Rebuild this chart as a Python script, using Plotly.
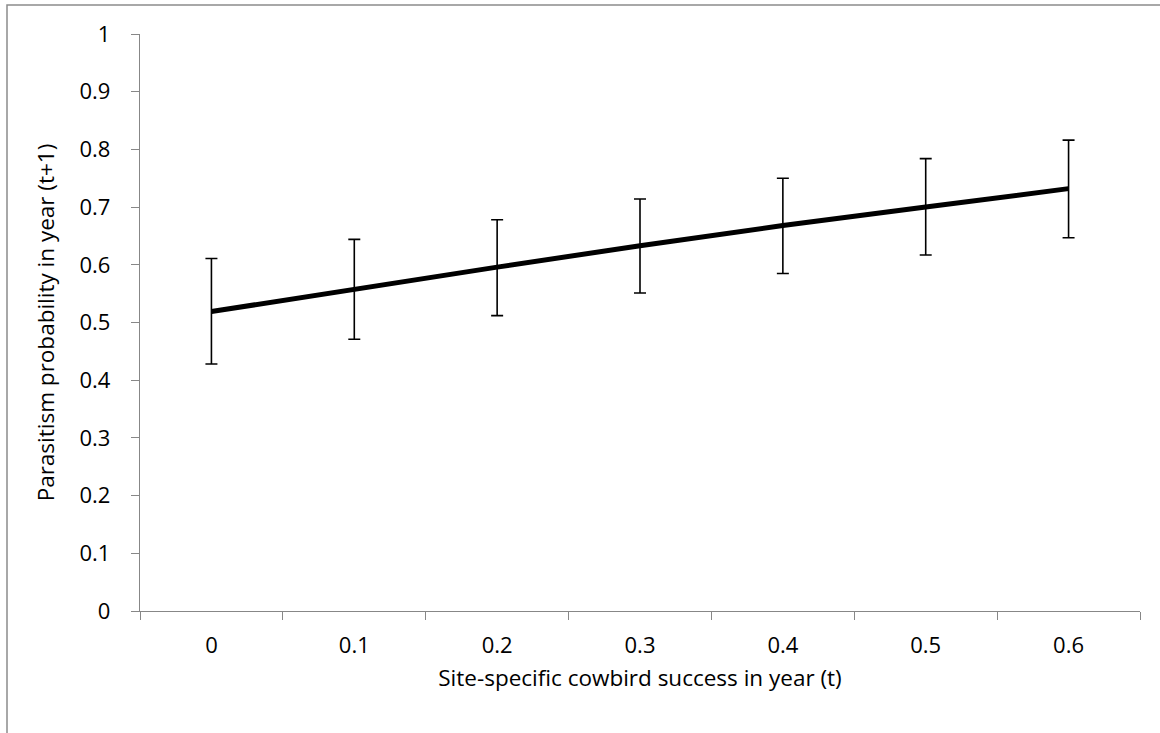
import plotly.graph_objects as go

categories = ["0", "0.1", "0.2", "0.3", "0.4", "0.5", "0.6"]
probability = [0.519, 0.558, 0.596, 0.633, 0.668, 0.700, 0.732]
upper = [0.611, 0.644, 0.678, 0.714, 0.750, 0.784, 0.816]
lower = [0.428, 0.471, 0.512, 0.551, 0.585, 0.617, 0.647]

err_plus = [u - p for u, p in zip(upper, probability)]
err_minus = [p - l for p, l in zip(probability, lower)]

FONT = "Open Sans"
AXIS_GREY = "#878787"
TICK_SIZE = 22
TITLE_SIZE = 22.5

fig = go.Figure()
fig.add_trace(go.Scatter(
    x=categories, y=probability, mode="lines",
    line=dict(color="black", width=5),
    error_y=dict(type="data", symmetric=False, array=err_plus, arrayminus=err_minus,
                 color="black", thickness=1.6, width=6),
    showlegend=False, hoverinfo="skip",
))

fig.update_layout(
    width=1160, height=733,
    margin=dict(l=140, r=20, t=34, b=122),
    paper_bgcolor="white", plot_bgcolor="white",
    font=dict(family=FONT, size=TICK_SIZE, color="black"),
    xaxis=dict(
        type="category", tickson="boundaries", ticks="outside", ticklen=8,
        tickcolor=AXIS_GREY, tickwidth=1.3,
        showline=True, linecolor=AXIS_GREY, linewidth=1.3,
        showgrid=False, zeroline=False, range=[-0.5, 6.5],
        tickfont=dict(family=FONT, size=TICK_SIZE), ticklabelstandoff=14,
        title=dict(text="Site-specific cowbird success in year (t)", standoff=12,
                   font=dict(family=FONT, size=TITLE_SIZE)),
    ),
    yaxis=dict(
        range=[0, 1], dtick=0.1, tick0=0, ticks="outside", ticklen=8,
        tickcolor=AXIS_GREY, tickwidth=1.3,
        showline=True, linecolor=AXIS_GREY, linewidth=1.3,
        showgrid=False, zeroline=False,
        tickfont=dict(family=FONT, size=TICK_SIZE), ticklabelstandoff=16,
        title=dict(text="Parasitism probability in year (t+1)", standoff=18,
                   font=dict(family=FONT, size=TITLE_SIZE)),
    ),
    shapes=[dict(type="rect", xref="paper", yref="paper",
                 x0=-0.133, x1=1.05, y0=-0.25, y1=1.0503,
                 line=dict(color="#8c8c8c", width=1.5), fillcolor="rgba(0,0,0,0)",
                 layer="below")],
)

fig.write_html("out.html", config={"displayModeBar": False},
               post_script="document.body.style.margin='0';document.body.style.overflow='hidden';")
